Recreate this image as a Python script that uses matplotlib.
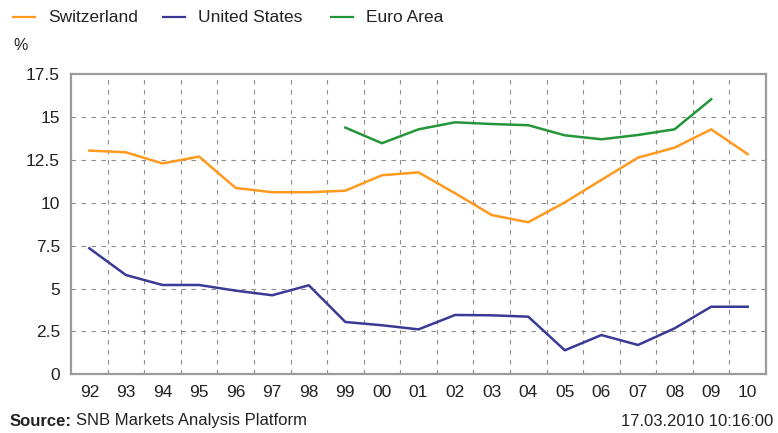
import matplotlib
matplotlib.use("Agg")
import matplotlib.pyplot as plt
from matplotlib.lines import Line2D
import numpy as np

# --- Data ---
YEARS = ["92", "93", "94", "95", "96", "97", "98", "99", "00", "01",
         "02", "03", "04", "05", "06", "07", "08", "09", "10"]
SWITZERLAND = [13.05, 12.95, 12.3, 12.7, 10.87, 10.62, 10.62, 10.71, 11.61, 11.78,
               10.56, 9.29, 8.87, 10.03, 11.34, 12.64, 13.22, 14.29, 12.84]
UNITED_STATES = [7.35, 5.79, 5.21, 5.21, 4.88, 4.61, 5.19, 3.05, 2.86, 2.62,
                 3.46, 3.44, 3.36, 1.40, 2.29, 1.71, 2.68, 3.94, 3.94]
EURO_YEARS = YEARS[7:18]
EURO_AREA = [14.39, 13.48, 14.29, 14.70, 14.60, 14.53, 13.94, 13.71, 13.96, 14.29, 16.04]
Y_TICKS = [0, 2.5, 5, 7.5, 10, 12.5, 15, 17.5]
Y_LABELS = ["0", "2.5", "5", "7.5", "10", "12.5", "15", "17.5"]

ORANGE = "#ff9a1e"
BLUE = "#3a3a96"
GREEN = "#23963a"
FRAME = "#9a9a9a"
GRID = "#8c8c8c"
TXT = "#222222"
FONT = ["Liberation Sans", "DejaVu Sans"]
FS = 12.5
plt.rcParams["font.family"] = FONT

fig = plt.figure(figsize=(7.78, 4.33), dpi=100, facecolor="white")
ax = fig.add_axes([0.0913, 0.1356, 0.8933, 0.6928])

x = np.arange(len(YEARS))
x_euro = np.array([YEARS.index(y) for y in EURO_YEARS])
ax.plot(x, SWITZERLAND, color=ORANGE, lw=1.8, zorder=3)
ax.plot(x, UNITED_STATES, color=BLUE, lw=1.8, zorder=3)
ax.plot(x_euro, EURO_AREA, color=GREEN, lw=1.8, zorder=3)

ax.set_xlim(-0.5, len(YEARS) - 0.5)
ax.set_ylim(0, 17.5)

# grid: horizontal at y ticks, vertical between categories
for yv in Y_TICKS[1:-1]:
    ax.axhline(yv, color=GRID, lw=0.8, dashes=(4, 5), zorder=1)
for xv in np.arange(0.5, len(YEARS) - 1, 1.0):
    ax.axvline(xv, color=GRID, lw=0.8, dashes=(4, 5), zorder=1)

ax.set_xticks(x)
ax.set_xticklabels(YEARS)
ax.set_yticks(Y_TICKS)
ax.set_yticklabels(Y_LABELS)
ax.tick_params(length=0, labelsize=FS, colors=TXT)
ax.tick_params(axis="x", pad=8)
ax.tick_params(axis="y", pad=8)
for sp in ax.spines.values():
    sp.set_color(FRAME)
    sp.set_linewidth(1.6)

# legend (manual)
entries = [(ORANGE, "Switzerland", 13), (BLUE, "United States", 163), (GREEN, "Euro Area", 331)]
for col, label, px in entries:
    fig.add_artist(Line2D([px / 778, (px + 22) / 778], [1 - 17 / 433] * 2,
                          color=col, lw=1.6, transform=fig.transFigure))
    fig.text((px + 35) / 778, 1 - 17 / 433, label, fontsize=FS, color=TXT,
             va="center", ha="left")

fig.text(13 / 778, 1 - 45 / 433, "%", fontsize=FS - 1, color=TXT, va="center", ha="left")

src = fig.text(10 / 778, 1 - 421 / 433, "Source:", fontsize=FS - 0.5, color=TXT,
               fontweight="bold", va="center", ha="left")
fig.canvas.draw()
bb = src.get_window_extent()
fig.text((bb.x1 + 4) / 778, 1 - 421 / 433, "SNB Markets Analysis Platform",
         fontsize=FS - 0.5, color=TXT, va="center", ha="left")
fig.text(773 / 778, 1 - 421 / 433, "17.03.2010 10:16:00", fontsize=FS - 0.5,
         color=TXT, va="center", ha="right")

fig.savefig("out.png", dpi=100, facecolor="white")
